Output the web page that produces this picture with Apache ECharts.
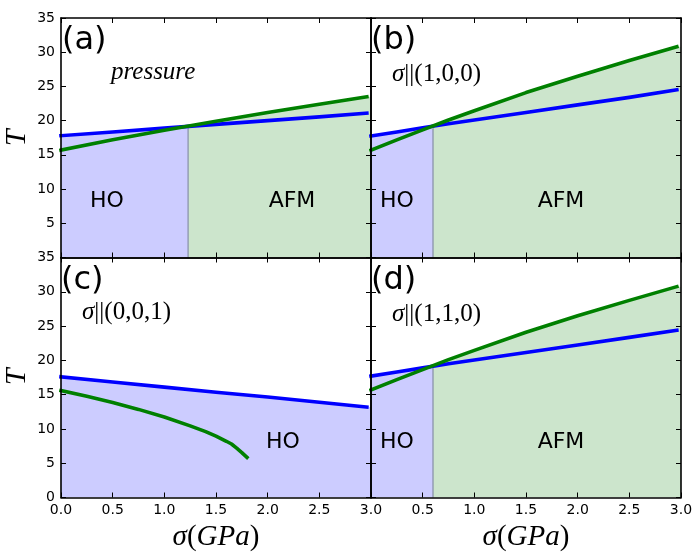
<!DOCTYPE html>
<html lang="en">
<head>
<meta charset="UTF-8">
<title>HO / AFM phase diagram</title>
<script src="https://cdn.jsdelivr.net/npm/echarts@6/dist/echarts.min.js"></script>
<style>
  html, body { margin: 0; padding: 0; background: #fff; }
  #chart { width: 697px; height: 556px; }
</style>
</head>
<body>
<div id="chart"></div>
<script>
// x ticks
var xTicks = [0, 0.5, 1.0, 1.5, 2.0, 2.5, 3.0];

// (a) pressure
var xsA = [0, 0.5, 1.0, 1.5, 2.0, 2.5, 2.96];
var blueA = [17.8, 18.35, 18.9, 19.45, 20.0, 20.55, 21.1];
var greenA = [15.7, 17.2, 18.6, 19.9, 21.2, 22.4, 23.5];
var crossA = [1.23, 19.15];

// (b) sigma || (1,0,0)
var xsB = [0, 0.25, 0.5, 0.75, 1.0, 1.5, 2.0, 2.5, 2.96];
var blueB = [17.75, 18.35, 18.95, 19.55, 20.1, 21.2, 22.3, 23.4, 24.5];
var greenB = [15.7, 17.2, 18.65, 20.1, 21.45, 24.1, 26.5, 28.8, 30.8];
var crossB = [0.6, 19.2];

// (c) sigma || (0,0,1)
var xsCblue = [0, 0.5, 1.0, 1.5, 2.0, 2.5, 2.96];
var blueC = [17.6, 16.85, 16.1, 15.35, 14.65, 13.9, 13.2];
var xsCgreen = [0, 0.25, 0.5, 0.75, 1.0, 1.25, 1.4, 1.5, 1.6, 1.65, 1.7, 1.75, 1.8];
var greenC = [15.6, 14.75, 13.85, 12.85, 11.75, 10.45, 9.6, 8.95, 8.2, 7.8, 7.2, 6.55, 5.85];

// (d) sigma || (1,1,0)
var xsD = [0, 0.25, 0.5, 0.75, 1.0, 1.5, 2.0, 2.5, 2.96];
var blueD = [17.7, 18.3, 18.9, 19.5, 20.05, 21.15, 22.25, 23.35, 24.4];
var greenD = [15.7, 17.2, 18.65, 20.1, 21.45, 24.1, 26.5, 28.75, 30.75];
var crossD = [0.6, 19.2];

var BLUE = '#0000ff', GREEN = '#008000';
var HO_FILL = '#ccccff', AFM_FILL = '#cce5cc';
var XMAX = 3.0;

function pts(xs, ys) {
  return xs.map(function (x, i) { return [x, ys[i]]; });
}
// area below a curve, left of the crossing
function fillLeft(xs, ys, cross) {
  var d = pts(xs, ys).filter(function (p) { return p[0] < cross[0]; });
  d.push([cross[0], cross[1]]);
  return d;
}
// area below a curve, right of the crossing, out to the axis end
function fillRight(xs, ys, cross) {
  var d = [[cross[0], cross[1]]];
  pts(xs, ys).forEach(function (p) { if (p[0] > cross[0]) d.push(p); });
  d.push([XMAX, ys[ys.length - 1]]);
  return d;
}

var grids = [
  { left: 61, top: 18, width: 310, height: 239.5 },
  { left: 371, top: 18, width: 310, height: 239.5 },
  { left: 61, top: 257.5, width: 310, height: 240 },
  { left: 371, top: 257.5, width: 310, height: 240 }
];

function tickStyle() {
  return { show: true, inside: true, length: 5, lineStyle: { color: '#000', width: 1 } };
}
function axisLineStyle() {
  return { show: true, onZero: false, lineStyle: { color: '#000', width: 1.6 } };
}
var labelFont = { fontFamily: 'DejaVu Sans', fontSize: 14, color: '#000' };

var xAxes = [], yAxes = [];
grids.forEach(function (g, i) {
  var bottomRow = i >= 2, leftCol = i % 2 === 0;
  xAxes.push({
    gridIndex: i, type: 'value', min: 0, max: 3, interval: 0.5, position: 'bottom', z: 10,
    axisLine: axisLineStyle(), axisTick: tickStyle(), splitLine: { show: false },
    axisLabel: Object.assign({
      show: bottomRow, margin: 6, showMinLabel: leftCol,
      formatter: function (v) { return v.toFixed(1); }
    }, labelFont)
  });
  xAxes.push({
    gridIndex: i, type: 'value', min: 0, max: 3, interval: 0.5, position: 'top', z: 10,
    axisLine: axisLineStyle(), axisTick: tickStyle(), splitLine: { show: false },
    axisLabel: { show: false }
  });
  yAxes.push({
    gridIndex: i, type: 'value', min: 0, max: 35, interval: 5, position: 'left', z: 10,
    axisLine: axisLineStyle(), axisTick: tickStyle(), splitLine: { show: false },
    axisLabel: Object.assign({ show: leftCol, margin: 6, showMinLabel: bottomRow }, labelFont)
  });
  yAxes.push({
    gridIndex: i, type: 'value', min: 0, max: 35, interval: 5, position: 'right', z: 10,
    axisLine: axisLineStyle(), axisTick: tickStyle(), splitLine: { show: false },
    axisLabel: { show: false }
  });
});

function area(g, data, color) {
  return {
    type: 'line', xAxisIndex: 2 * g, yAxisIndex: 2 * g, data: data, symbol: 'none',
    lineStyle: { width: 0 }, areaStyle: { color: color, opacity: 1 }, z: 1
  };
}
function curve(g, data, color) {
  return {
    type: 'line', xAxisIndex: 2 * g, yAxisIndex: 2 * g, data: data, symbol: 'none',
    lineStyle: { width: 3.6, color: color, cap: 'square', join: 'round' }, z: 3
  };
}
function divider(g, cross) {
  return {
    type: 'line', xAxisIndex: 2 * g, yAxisIndex: 2 * g, symbol: 'none',
    data: [[cross[0], 0], [cross[0], cross[1]]],
    lineStyle: { width: 1.3, color: '#8a94ab' }, z: 2
  };
}

var series = [
  area(0, fillLeft(xsA, blueA, crossA), HO_FILL),
  area(0, fillRight(xsA, greenA, crossA), AFM_FILL),
  divider(0, crossA),
  curve(0, pts(xsA, blueA), BLUE),
  curve(0, pts(xsA, greenA), GREEN),

  area(1, fillLeft(xsB, blueB, crossB), HO_FILL),
  area(1, fillRight(xsB, greenB, crossB), AFM_FILL),
  divider(1, crossB),
  curve(1, pts(xsB, blueB), BLUE),
  curve(1, pts(xsB, greenB), GREEN),

  area(2, pts(xsCblue, blueC).concat([[XMAX, blueC[blueC.length - 1]]]), HO_FILL),
  curve(2, pts(xsCblue, blueC), BLUE),
  curve(2, pts(xsCgreen, greenC), GREEN),

  area(3, fillLeft(xsD, blueD, crossD), HO_FILL),
  area(3, fillRight(xsD, greenD, crossD), AFM_FILL),
  divider(3, crossD),
  curve(3, pts(xsD, blueD), BLUE),
  curve(3, pts(xsD, greenD), GREEN)
];

// text annotations
var SANS = 'DejaVu Sans', SERIF = 'Liberation Serif';
function txt(x, y, s, size, align) {
  return {
    type: 'text', x: x, y: y, z: 20,
    style: { text: s, fontFamily: SANS, fontSize: size, fill: '#000', align: align || 'center', verticalAlign: 'middle' }
  };
}
function mathTxt(x, y, sym, rest, size) {
  return {
    type: 'text', x: x, y: y, z: 20,
    style: {
      text: '{i|' + sym + '}{r|' + rest + '}', align: 'left', verticalAlign: 'middle',
      rich: {
        i: { fontFamily: SERIF, fontStyle: 'italic', fontSize: size, fill: '#000' },
        r: { fontFamily: SERIF, fontSize: size, fill: '#000' }
      }
    }
  };
}
function xTitle(cx, cy) {
  return {
    type: 'text', x: cx, y: cy, z: 20,
    style: {
      text: '{i|σ}{r|(}{i|GPa}{r|)}', align: 'center', verticalAlign: 'middle',
      rich: {
        i: { fontFamily: SERIF, fontStyle: 'italic', fontSize: 29, fill: '#000' },
        r: { fontFamily: SERIF, fontSize: 29, fill: '#000' }
      }
    }
  };
}
function yTitle(cx, cy) {
  return {
    type: 'text', x: cx, y: cy, rotation: Math.PI / 2, z: 20,
    style: { text: 'T', fontFamily: SERIF, fontStyle: 'italic', fontSize: 30, fill: '#000', align: 'center', verticalAlign: 'middle' }
  };
}

var graphic = [
  txt(62, 41, '(a)', 32, 'left'),
  txt(371, 41, '(b)', 32, 'left'),
  txt(61, 281, '(c)', 32, 'left'),
  txt(371, 281, '(d)', 32, 'left'),
  {
    type: 'text', x: 111, y: 72, z: 20,
    style: { text: 'pressure', fontFamily: SERIF, fontStyle: 'italic', fontSize: 25, fill: '#000', align: 'left', verticalAlign: 'middle' }
  },
  mathTxt(392, 74, 'σ', '||(1,0,0)', 25),
  mathTxt(82, 312, 'σ', '||(0,0,1)', 25),
  mathTxt(392, 314, 'σ', '||(1,1,0)', 25),
  txt(107, 201, 'HO', 22),
  txt(292, 201, 'AFM', 22),
  txt(397, 201, 'HO', 22),
  txt(561, 201, 'AFM', 22),
  txt(283, 442, 'HO', 22),
  txt(397, 442, 'HO', 22),
  txt(561, 442, 'AFM', 22),
  yTitle(17, 138),
  yTitle(17, 377),
  xTitle(216, 537),
  xTitle(526, 537)
];

var chart = echarts.init(document.getElementById('chart'));
chart.setOption({
  animation: false,
  backgroundColor: '#fff',
  grid: grids,
  xAxis: xAxes,
  yAxis: yAxes,
  series: series,
  graphic: graphic
});
</script>
</body>
</html>
